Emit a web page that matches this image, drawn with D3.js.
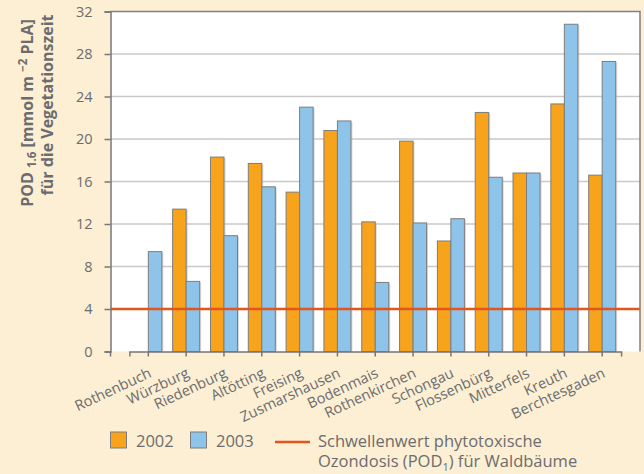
<!DOCTYPE html>
<html>
<head>
<meta charset="utf-8">
<script src="https://cdn.jsdelivr.net/npm/d3@7"></script>
<style>
  body { margin: 0; background: #fdefd3; }
  svg { display: block; font-family: "Open Sans", sans-serif; }
</style>
</head>
<body>
<svg id="chart" width="644" height="474"></svg>
<script>
// stations and POD values
var stations = ["Rothenbuch", "Würzburg", "Riedenburg", "Altötting", "Freising", "Zusmarshausen",
  "Bodenmais", "Rothenkirchen", "Schongau", "Flossenbürg", "Mitterfels", "Kreuth", "Berchtesgaden"];
var pod2002 = [null, 13.4, 18.3, 17.7, 15.0, 20.8, 12.2, 19.8, 10.4, 22.5, 16.8, 23.3, 16.6];
var pod2003 = [9.4, 6.6, 10.9, 15.5, 23.0, 21.7, 6.5, 12.1, 12.5, 16.4, 16.8, 30.8, 27.3];
var yTicks = [0, 4, 8, 12, 16, 20, 24, 28, 32];
var threshold = 4;
var years = ["2002", "2003"];

var textCol = "#6b6c6f";
var colors = {"2002": "#f7a31c", "2003": "#8fc4ea"};

var svg = d3.select("#chart");
var pl = 110.5, pr = 640, pt = 11.5, pb = 351.5;
var step = (pr - pl) / (stations.length + 1);

// each station sits on its own tick, with one empty slot at both ends
var x = d3.scaleBand().domain(stations)
  .range([pl + step / 2, pr - step / 2]).padding(0);
var xIn = d3.scaleBand().domain(years).range([-13.5, 13.5]);
var y = d3.scaleLinear().domain([0, 32]).range([pb, pt]);

svg.append("rect").attr("x", pl).attr("y", pt)
  .attr("width", pr - pl).attr("height", pb - pt).attr("fill", "#fff");

// grid
svg.append("g").selectAll("line").data(yTicks.slice(1, -1)).enter().append("line")
  .attr("x1", pl).attr("x2", pr)
  .attr("y1", function(d) { return y(d); }).attr("y2", function(d) { return y(d); })
  .attr("stroke", "#c9c9cd").attr("stroke-width", 1.5);

// bars
var rows = [];
stations.forEach(function(s, i) {
  rows.push({s: s, k: "2002", v: pod2002[i]});
  rows.push({s: s, k: "2003", v: pod2003[i]});
});
rows = rows.filter(function(d) { return d.v != null; });

function bx(d) { return x(d.s) + x.bandwidth() / 2 + xIn(d.k); }

var bars = svg.append("g");
bars.selectAll(".shadow").data(rows).enter().append("rect")
  .attr("class", "shadow")
  .attr("x", function(d) { return bx(d) + 1.5; })
  .attr("y", function(d) { return y(d.v) + 1; })
  .attr("width", xIn.bandwidth())
  .attr("height", function(d) { return pb - y(d.v) - 1; })
  .attr("fill", "#bdbdbd").attr("opacity", 0.6);
bars.selectAll(".bar").data(rows).enter().append("rect")
  .attr("class", "bar")
  .attr("x", bx)
  .attr("y", function(d) { return y(d.v); })
  .attr("width", xIn.bandwidth())
  .attr("height", function(d) { return pb - y(d.v); })
  .attr("fill", function(d) { return colors[d.k]; })
  .attr("stroke", "#7d7d7d").attr("stroke-width", 1);

// threshold line
svg.append("line")
  .attr("x1", pl).attr("x2", pr)
  .attr("y1", y(threshold)).attr("y2", y(threshold))
  .attr("stroke", "#e0561c").attr("stroke-width", 2.5);

// frame
svg.append("path")
  .attr("d", "M" + pl + "," + pt + "H" + pr + "V" + pb)
  .attr("fill", "none").attr("stroke", "#808080").attr("stroke-width", 1.5);

// y axis
var yAxis = svg.append("g").attr("transform", "translate(" + pl + ",0)")
  .call(d3.axisLeft(y).tickValues(yTicks).tickSize(6).tickPadding(12));
yAxis.select(".domain").attr("stroke", "#777").attr("stroke-width", 1.5);
yAxis.selectAll(".tick line").attr("stroke", "#777").attr("stroke-width", 1.5);
yAxis.selectAll("text").attr("fill", textCol).attr("font-size", 14.5)
  .attr("font-family", "Open Sans, sans-serif");

// x axis
var xAxis = svg.append("g").attr("transform", "translate(0," + pb + ")")
  .call(d3.axisBottom(x).tickSize(5).tickFormat(""));
xAxis.select(".domain").attr("stroke", "#777").attr("stroke-width", 1.5);
xAxis.selectAll(".tick line").attr("stroke", "#777").attr("stroke-width", 1.5);
xAxis.append("line").attr("x1", pl).attr("x2", pl).attr("y1", 0).attr("y2", 5)
  .attr("stroke", "#777").attr("stroke-width", 1.5);

svg.append("g").selectAll("text").data(stations).enter().append("text")
  .attr("transform", function(d) {
    return "translate(" + (x(d) + x.bandwidth() / 2 + 4) + "," + (pb + 25) + ") rotate(-25)";
  })
  .attr("text-anchor", "end")
  .attr("fill", textCol).attr("font-size", 14.5)
  .text(function(d) { return d; });

// y title
var yt = svg.append("text")
  .attr("transform", "translate(33,113) rotate(-90)")
  .attr("text-anchor", "middle").attr("fill", textCol)
  .attr("font-size", 16).attr("font-weight", "bold");
yt.append("tspan").text("POD ");
yt.append("tspan").attr("font-size", 11.5).attr("dy", 3).text("1.6");
yt.append("tspan").attr("dy", -3).text(" [mmol m ");
yt.append("tspan").attr("font-size", 11.5).attr("dy", -6).text("−2");
yt.append("tspan").attr("dy", 6).text(" PLA]");
svg.append("text")
  .attr("transform", "translate(53,105) rotate(-90)")
  .attr("text-anchor", "middle").attr("fill", textCol)
  .attr("font-size", 16).attr("font-weight", "bold")
  .text("für die Vegetationszeit");

// legend
var lg = svg.append("g").attr("font-size", 16.5).attr("fill", textCol);
[["2002", 110.5], ["2003", 190.5]].forEach(function(p) {
  lg.append("rect").attr("x", p[1]).attr("y", 432).attr("width", 16).attr("height", 16)
    .attr("fill", colors[p[0]]).attr("stroke", "#7d7d7d").attr("stroke-width", 1);
  lg.append("text").attr("x", p[1] + 25.5).attr("y", 446.5).text(p[0]);
});
lg.append("line").attr("x1", 275).attr("x2", 310).attr("y1", 442).attr("y2", 442)
  .attr("stroke", "#e0561c").attr("stroke-width", 2.5);
lg.append("text").attr("x", 318).attr("y", 446.5).text("Schwellenwert phytotoxische");
var l2 = lg.append("text").attr("x", 318).attr("y", 467);
l2.append("tspan").text("Ozondosis (POD");
l2.append("tspan").attr("font-size", 11).attr("dy", 4).text("1");
l2.append("tspan").attr("dy", -4).text(") für Waldbäume");
</script>
</body>
</html>
